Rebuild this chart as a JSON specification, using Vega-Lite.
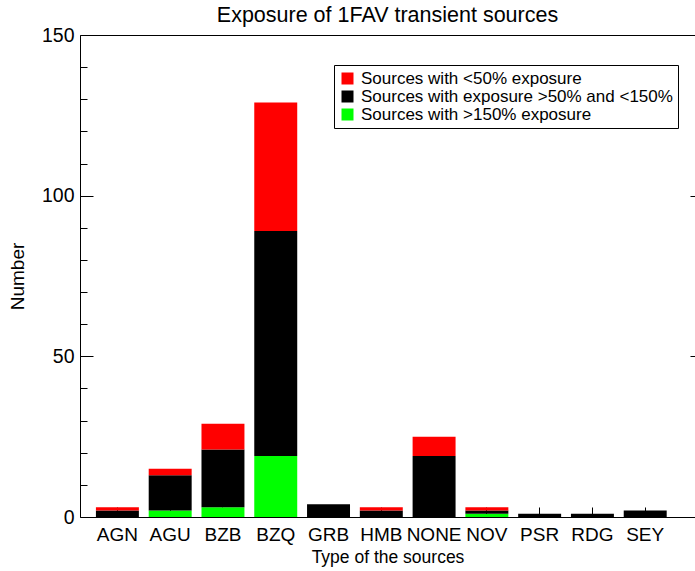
{
  "$schema": "https://vega.github.io/schema/vega-lite/v6.json",
  "width": 615,
  "height": 482,
  "autosize": {"type": "none"},
  "padding": {"left": 80, "top": 35, "right": 0, "bottom": 54},
  "background": "white",
  "config": {
    "font": "Liberation Sans",
    "view": {"stroke": "black", "strokeWidth": 1},
    "axis": {"domain": false, "grid": false, "labelColor": "black", "titleColor": "black", "tickColor": "black", "labelFont": "Liberation Sans", "titleFont": "Liberation Sans", "titleFontWeight": "normal"}
  },
  "title": {"text": "Exposure of 1FAV transient sources", "fontSize": 21.5, "fontWeight": "normal", "font": "Liberation Sans", "color": "black", "anchor": "middle", "offset": -1},
  "data": {
    "values": [
      {"type": "AGN", "category": "Sources with >150% exposure", "level": 1, "count": 0},
      {"type": "AGN", "category": "Sources with exposure >50% and <150%", "level": 2, "count": 2},
      {"type": "AGN", "category": "Sources with <50% exposure", "level": 3, "count": 1},
      {"type": "AGU", "category": "Sources with >150% exposure", "level": 1, "count": 2},
      {"type": "AGU", "category": "Sources with exposure >50% and <150%", "level": 2, "count": 11},
      {"type": "AGU", "category": "Sources with <50% exposure", "level": 3, "count": 2},
      {"type": "BZB", "category": "Sources with >150% exposure", "level": 1, "count": 3},
      {"type": "BZB", "category": "Sources with exposure >50% and <150%", "level": 2, "count": 18},
      {"type": "BZB", "category": "Sources with <50% exposure", "level": 3, "count": 8},
      {"type": "BZQ", "category": "Sources with >150% exposure", "level": 1, "count": 19},
      {"type": "BZQ", "category": "Sources with exposure >50% and <150%", "level": 2, "count": 70},
      {"type": "BZQ", "category": "Sources with <50% exposure", "level": 3, "count": 40},
      {"type": "GRB", "category": "Sources with >150% exposure", "level": 1, "count": 0},
      {"type": "GRB", "category": "Sources with exposure >50% and <150%", "level": 2, "count": 4},
      {"type": "GRB", "category": "Sources with <50% exposure", "level": 3, "count": 0},
      {"type": "HMB", "category": "Sources with >150% exposure", "level": 1, "count": 0},
      {"type": "HMB", "category": "Sources with exposure >50% and <150%", "level": 2, "count": 2},
      {"type": "HMB", "category": "Sources with <50% exposure", "level": 3, "count": 1},
      {"type": "NONE", "category": "Sources with >150% exposure", "level": 1, "count": 0},
      {"type": "NONE", "category": "Sources with exposure >50% and <150%", "level": 2, "count": 19},
      {"type": "NONE", "category": "Sources with <50% exposure", "level": 3, "count": 6},
      {"type": "NOV", "category": "Sources with >150% exposure", "level": 1, "count": 1},
      {"type": "NOV", "category": "Sources with exposure >50% and <150%", "level": 2, "count": 1},
      {"type": "NOV", "category": "Sources with <50% exposure", "level": 3, "count": 1},
      {"type": "PSR", "category": "Sources with >150% exposure", "level": 1, "count": 0},
      {"type": "PSR", "category": "Sources with exposure >50% and <150%", "level": 2, "count": 1},
      {"type": "PSR", "category": "Sources with <50% exposure", "level": 3, "count": 0},
      {"type": "RDG", "category": "Sources with >150% exposure", "level": 1, "count": 0},
      {"type": "RDG", "category": "Sources with exposure >50% and <150%", "level": 2, "count": 1},
      {"type": "RDG", "category": "Sources with <50% exposure", "level": 3, "count": 0},
      {"type": "SEY", "category": "Sources with >150% exposure", "level": 1, "count": 0},
      {"type": "SEY", "category": "Sources with exposure >50% and <150%", "level": 2, "count": 2},
      {"type": "SEY", "category": "Sources with <50% exposure", "level": 3, "count": 0}
    ]
  },
  "encoding": {
    "x": {
      "field": "type", "type": "nominal", "sort": null,
      "scale": {"paddingInner": 0.186, "paddingOuter": 0.419, "align": 0.36},
      "axis": {"orient": "bottom", "labelAngle": 0, "tickSize": -10, "labelFontSize": 19, "labelPadding": 18, "title": "Type of the sources", "titleFontSize": 17.5, "titlePadding": 4}
    }
  },
  "layer": [
    {
      "mark": {"type": "bar"},
      "encoding": {
        "y": {
          "field": "count", "type": "quantitative", "stack": "zero",
          "scale": {"domain": [0, 150], "nice": false},
          "axis": {
            "values": [0, 10, 20, 30, 40, 50, 60, 70, 80, 90, 100, 110, 120, 130, 140, 150],
            "tickSize": {"condition": {"test": "datum.value % 50 === 0", "value": -13}, "value": -7},
            "labelExpr": "datum.value % 50 === 0 ? datum.label : ''",
            "labelFontSize": 19.5, "labelPadding": 19,
            "title": "Number", "titleFontSize": 19, "titlePadding": 14
          }
        },
        "color": {
          "field": "category", "type": "nominal",
          "scale": {"domain": ["Sources with <50% exposure", "Sources with exposure >50% and <150%", "Sources with >150% exposure"], "range": ["#ff0000", "#000000", "#00ff00"]},
          "legend": {"orient": "none", "legendX": 254, "legendY": 30, "title": null, "symbolType": "square", "symbolSize": 144, "symbolStrokeWidth": 0, "labelFontSize": 17, "labelFont": "Liberation Sans", "labelColor": "black", "padding": 5, "strokeColor": "black", "fillColor": "white", "rowPadding": 0, "labelLimit": 400, "labelOffset": 5}
        },
        "order": {"field": "level", "type": "quantitative"}
      }
    },
    {
      "mark": {"type": "bar", "opacity": 0},
      "encoding": {
        "y": {
          "field": "count", "type": "quantitative", "stack": "zero",
          "scale": {"domain": [0, 150], "nice": false},
          "axis": {"orient": "right", "values": [50, 100], "tickSize": -5, "labels": false, "title": null}
        }
      }
    }
  ],
  "resolve": {"axis": {"y": "independent"}}
}
